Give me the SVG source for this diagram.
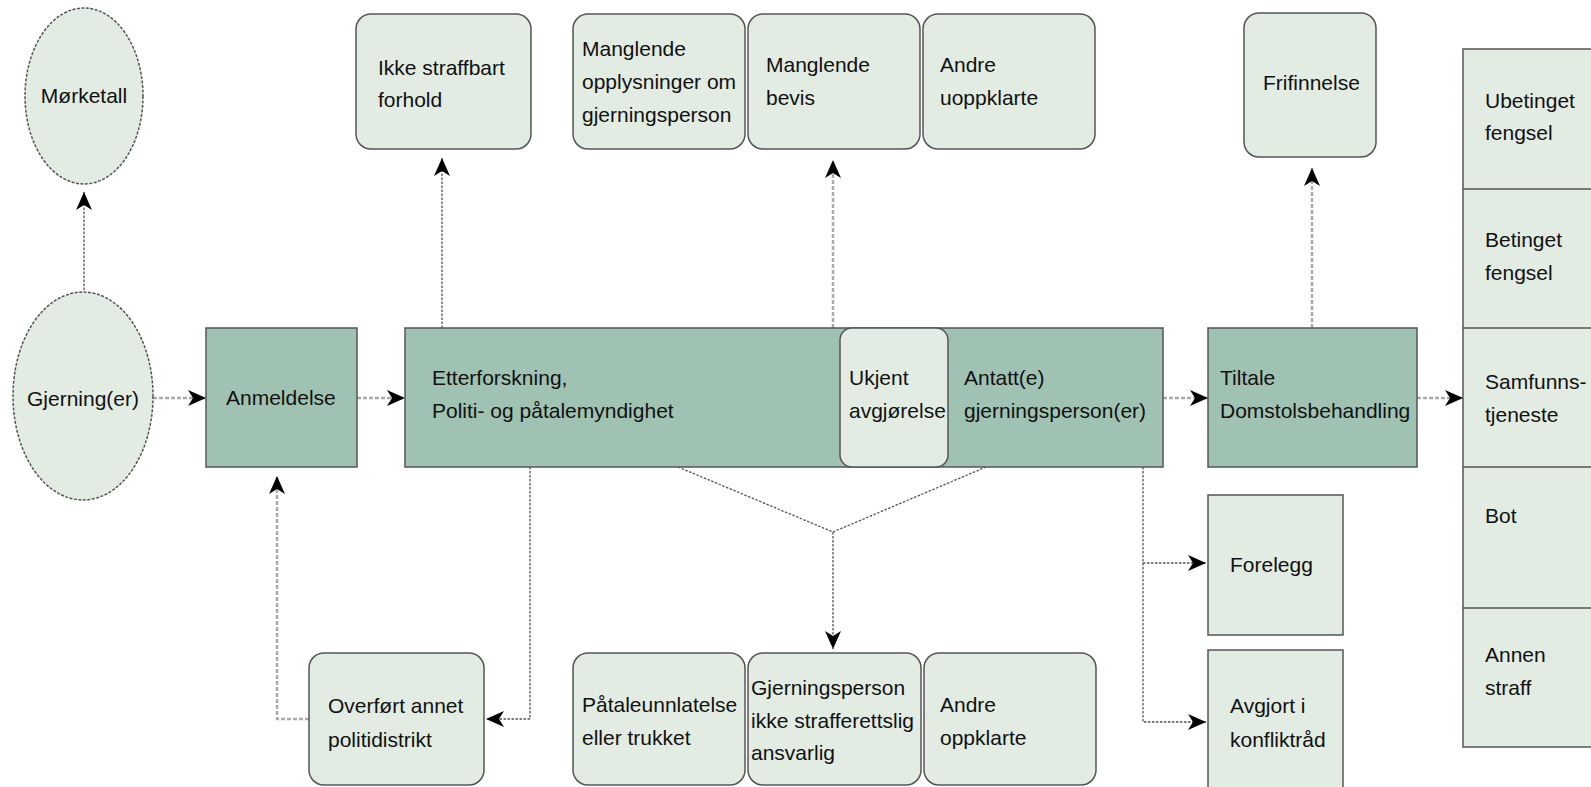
<svg xmlns="http://www.w3.org/2000/svg" width="1591" height="787" viewBox="0 0 1591 787">
<style>
.lt{fill:#e2ece2;stroke:#555;stroke-width:1.5}
.dk{fill:#a0c2b3;stroke:#555;stroke-width:1.5}
.el{fill:#e2ece2;stroke:#555;stroke-width:1.5;stroke-dasharray:3 1.5}
text{font-family:"Liberation Sans",Arial,sans-serif;font-size:21px;fill:#111}
.c1{fill:none;stroke:#555;stroke-width:1.3;stroke-dasharray:2.5 1.5}
.c2{fill:none;stroke:#aaa;stroke-width:2.5;stroke-dasharray:4 2}
</style>
<defs>
<marker id="ah" markerUnits="userSpaceOnUse" markerWidth="20" markerHeight="20" viewBox="0 0 20 20" refX="18" refY="10" orient="auto">
<path d="M0,2 L18,10 L0,18 L5,10 z" fill="#000"/>
</marker>
</defs>
<rect width="1591" height="787" fill="#fff"/>

<g id="connectors">
<line class="c1" x1="84" y1="290" x2="84" y2="192" marker-end="url(#ah)"/>
<line class="c2" x1="153" y1="398" x2="206" y2="398" marker-end="url(#ah)"/>
<line class="c2" x1="357" y1="398" x2="405" y2="398" marker-end="url(#ah)"/>
<line class="c1" x1="442" y1="328" x2="442" y2="158" marker-end="url(#ah)"/>
<line class="c2" x1="833" y1="328" x2="833" y2="160" marker-end="url(#ah)"/>
<line class="c2" x1="1312" y1="328" x2="1312" y2="168" marker-end="url(#ah)"/>
<line class="c2" x1="1163" y1="398" x2="1208" y2="398" marker-end="url(#ah)"/>
<line class="c2" x1="1417" y1="398" x2="1463" y2="398" marker-end="url(#ah)"/>
<polyline class="c1" points="530,467 530,719 486,719" marker-end="url(#ah)"/>
<polyline class="c2" points="309,719 277,719 277,476" marker-end="url(#ah)"/>
<polyline class="c1" points="678,467 833,532 986,467"/>
<line class="c1" x1="833" y1="532" x2="833" y2="649" marker-end="url(#ah)"/>
<polyline class="c1" points="1143,467 1143,722 1206,722" marker-end="url(#ah)"/>
<line class="c1" x1="1143" y1="563" x2="1206" y2="563" marker-end="url(#ah)"/>
</g>

<g id="morketall">
<ellipse class="el" cx="84" cy="96" rx="59" ry="88"/>
<text x="84" y="103" text-anchor="middle">Mørketall</text>
</g>
<g id="gjerning">
<ellipse class="el" cx="83" cy="396" rx="70" ry="104"/>
<text x="83" y="406" text-anchor="middle">Gjerning(er)</text>
</g>
<g id="anmeldelse">
<rect class="dk" x="206" y="328" width="151" height="139"/>
<text x="226" y="405">Anmeldelse</text>
</g>
<g id="etterforskning">
<rect class="dk" x="405" y="328" width="758" height="139"/>
<text x="432" y="385">Etterforskning,</text>
<text x="432" y="418">Politi- og påtalemyndighet</text>
</g>
<g id="ukjent">
<rect class="lt" x="840" y="328" width="108" height="139" rx="12"/>
<text x="849" y="385">Ukjent</text>
<text x="849" y="418">avgjørelse</text>
</g>
<g id="antatt">
<text x="964" y="385">Antatt(e)</text>
<text x="964" y="418">gjerningsperson(er)</text>
</g>
<g id="tiltale">
<rect class="dk" x="1208" y="328" width="209" height="139"/>
<text x="1220" y="385">Tiltale</text>
<text x="1220" y="418">Domstolsbehandling</text>
</g>
<g id="ikke">
<rect class="lt" x="356" y="14" width="175" height="135" rx="15"/>
<text x="378" y="75">Ikke straffbart</text>
<text x="378" y="107">forhold</text>
</g>
<g id="manglende-oppl">
<rect class="lt" x="573" y="14" width="172" height="135" rx="15"/>
<text x="582" y="56">Manglende</text>
<text x="582" y="89">opplysninger om</text>
<text x="582" y="122">gjerningsperson</text>
</g>
<g id="manglende-bevis">
<rect class="lt" x="748" y="14" width="172" height="135" rx="15"/>
<text x="766" y="72">Manglende</text>
<text x="766" y="105">bevis</text>
</g>
<g id="andre-uoppklarte">
<rect class="lt" x="923" y="14" width="172" height="135" rx="15"/>
<text x="940" y="72">Andre</text>
<text x="940" y="105">uoppklarte</text>
</g>
<g id="frifinnelse">
<rect class="lt" x="1244" y="13" width="132" height="144" rx="15"/>
<text x="1263" y="90">Frifinnelse</text>
</g>
<g id="straff">
<rect class="lt" x="1463" y="49" width="140" height="698"/>
<line x1="1463" y1="189" x2="1603" y2="189" stroke="#555" stroke-width="1.5"/>
<line x1="1463" y1="328" x2="1603" y2="328" stroke="#555" stroke-width="1.5"/>
<line x1="1463" y1="467" x2="1603" y2="467" stroke="#555" stroke-width="1.5"/>
<line x1="1463" y1="608" x2="1603" y2="608" stroke="#555" stroke-width="1.5"/>
<text x="1485" y="108">Ubetinget</text>
<text x="1485" y="140">fengsel</text>
<text x="1485" y="247">Betinget</text>
<text x="1485" y="280">fengsel</text>
<text x="1485" y="389">Samfunns-</text>
<text x="1485" y="422">tjeneste</text>
<text x="1485" y="523">Bot</text>
<text x="1485" y="662">Annen</text>
<text x="1485" y="695">straff</text>
</g>
<g id="forelegg">
<rect class="lt" x="1208" y="495" width="135" height="140"/>
<text x="1230" y="572">Forelegg</text>
</g>
<g id="konfliktraad">
<rect class="lt" x="1208" y="650" width="135" height="145"/>
<text x="1230" y="713">Avgjort i</text>
<text x="1230" y="747">konfliktråd</text>
</g>
<g id="overfort">
<rect class="lt" x="309" y="653" width="175" height="132" rx="15"/>
<text x="328" y="713">Overført annet</text>
<text x="328" y="747">politidistrikt</text>
</g>
<g id="pataleunnlatelse">
<rect class="lt" x="573" y="653" width="172" height="132" rx="15"/>
<text x="582" y="712">Påtaleunnlatelse</text>
<text x="582" y="745">eller trukket</text>
</g>
<g id="ikke-ansvarlig">
<rect class="lt" x="748" y="653" width="173" height="132" rx="15"/>
<text x="751" y="695">Gjerningsperson</text>
<text x="751" y="728">ikke strafferettslig</text>
<text x="751" y="760">ansvarlig</text>
</g>
<g id="andre-oppklarte">
<rect class="lt" x="924" y="653" width="172" height="132" rx="15"/>
<text x="940" y="712">Andre</text>
<text x="940" y="745">oppklarte</text>
</g>
</svg>
